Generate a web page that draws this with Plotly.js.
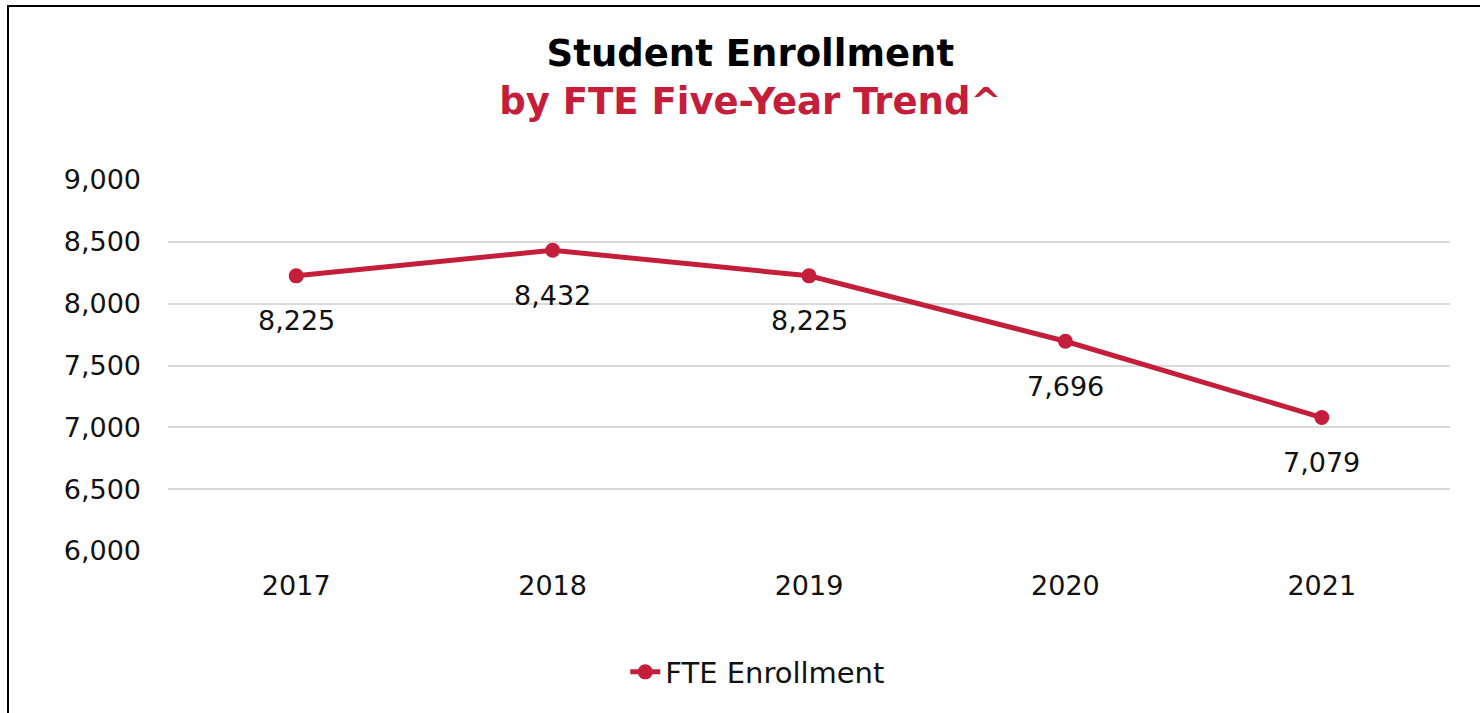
<!DOCTYPE html>
<html>
<head>
<meta charset="utf-8">
<script src="https://cdn.plot.ly/plotly-3.0.1.min.js"></script>
<style>
  html, body { margin: 0; padding: 0; background: #fff; overflow: hidden; }
  #chart { position: absolute; left: 0; top: 0; width: 1480px; height: 713px; }
  #frame { position: absolute; left: 7px; top: 5px; width: 1500px; height: 800px;
           border-left: 2px solid #000; border-top: 2px solid #000; pointer-events: none; }
</style>
</head>
<body>
<div id="chart"></div>
<div id="frame"></div>
<script>
const years = ['2017', '2018', '2019', '2020', '2021'];
const fteEnrollment = [8225, 8432, 8225, 7696, 7079];
const seriesName = 'FTE Enrollment';
const yTicks = [6000, 6500, 7000, 7500, 8000, 8500, 9000];

const RED = '#C41E3A';
const FONT = '"DejaVu Sans", "Noto Sans", sans-serif';

function fmt(v) { return String(v).replace(/\B(?=(\d{3})+(?!\d))/g, ','); }

const trace = {
  type: 'scatter',
  mode: 'lines+markers',
  x: years,
  y: fteEnrollment,
  name: seriesName,
  line: { color: RED, width: 5 },
  marker: { color: RED, size: 15 },
  hoverinfo: 'x+y'
};

const annotations = fteEnrollment.map((v, i) => ({
  x: i, y: v, xref: 'x', yref: 'y',
  text: fmt(v),
  showarrow: false, yshift: -45,
  font: { family: FONT, size: 27, color: '#111' }
}));

const layout = {
  width: 1480, height: 713,
  paper_bgcolor: '#fff', plot_bgcolor: '#fff',
  margin: { l: 168, r: 30, t: 180, b: 162 },
  title: {
    text: '<b>Student Enrollment</b><br><span style="color:' + RED + '"><b>by FTE Five-Year Trend^</b></span>',
    font: { family: FONT, size: 37, color: '#000' },
    x: 0.507, xanchor: 'center', xref: 'container',
    y: 0.908, yanchor: 'middle', yref: 'container'
  },
  xaxis: {
    type: 'category',
    range: [-0.5, 4.5],
    automargin: false,
    showgrid: false, zeroline: false, showline: false,
    ticks: '',
    tickfont: { family: FONT, size: 27, color: '#111' },
    ticklabelstandoff: 16
  },
  yaxis: {
    range: [6000, 9000],
    automargin: false,
    tickvals: yTicks,
    tickformat: ',d',
    showgrid: true, gridcolor: '#d9d9d9', gridwidth: 2,
    zeroline: false, showline: false, ticks: '',
    tickfont: { family: FONT, size: 27, color: '#111' },
    ticklabelstandoff: 26
  },
  showlegend: true,
  legend: {
    orientation: 'h', x: 0.512, xanchor: 'center', xref: 'container',
    y: 0.0575, yanchor: 'middle', yref: 'container',
    font: { family: FONT, size: 29, color: '#111' }
  },
  annotations: annotations
};

Plotly.newPlot('chart', [trace], layout, { displayModeBar: false, staticPlot: true });
</script>
</body>
</html>
